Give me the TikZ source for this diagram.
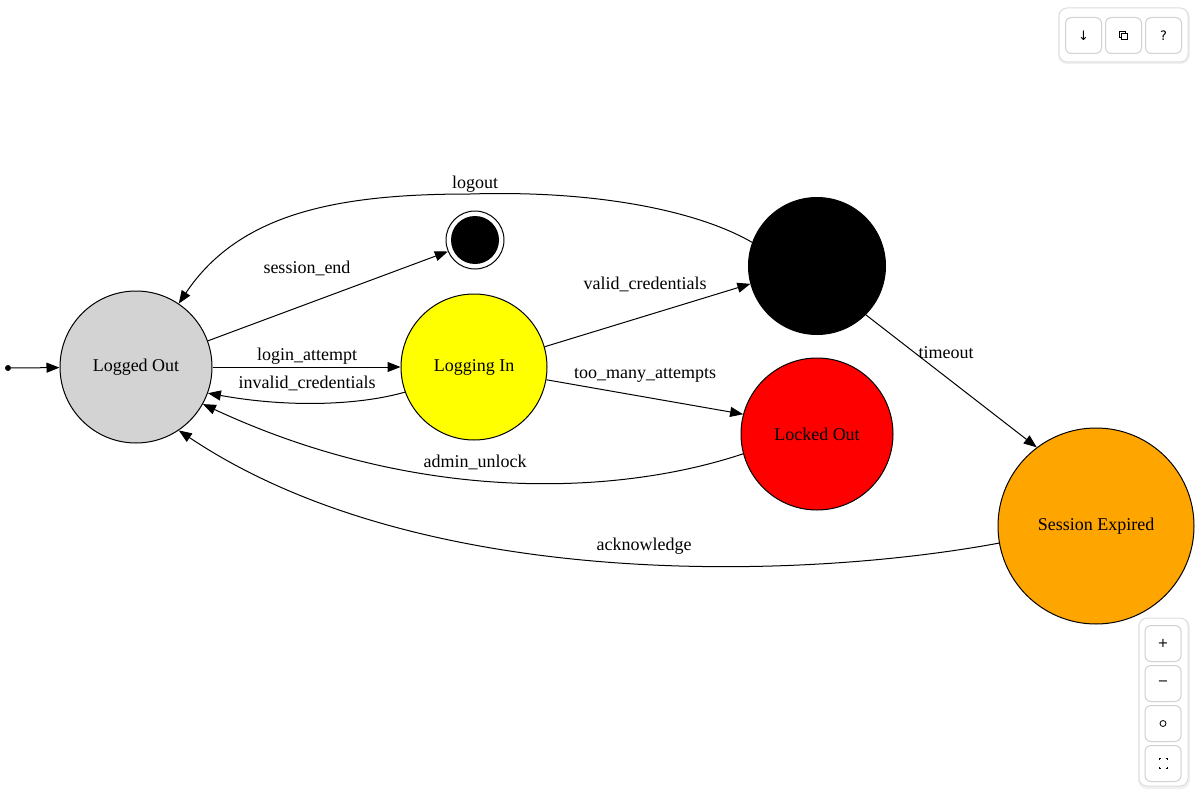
\documentclass[tikz,border=0pt]{standalone}
\usepackage{fontspec}
\setmainfont{Liberation Serif}
\newfontfamily\uifont{DejaVu Sans}
\usetikzlibrary{arrows.meta}
\definecolor{stYellow}{RGB}{255,255,0}
\definecolor{stRed}{RGB}{255,0,0}
\definecolor{stOrange}{RGB}{255,165,0}
\definecolor{stGray}{RGB}{211,211,211}
\begin{document}
\begin{tikzpicture}[x=1pt,y=-1pt,
  st/.style={circle,draw=black,line width=1pt,inner sep=0pt,font=\fontsize{18}{21}\selectfont},
  edge/.style={line width=1pt,-{Triangle[length=13pt,width=10pt]}},
  lbl/.style={font=\fontsize{18}{21}\selectfont,inner sep=1pt},
  panel/.style={draw=black!13,fill=white,rounded corners=8pt,line width=1pt},
  btn/.style={draw=black!18,fill=white,rounded corners=6pt,line width=1pt,minimum width=36pt,minimum height=36pt,inner sep=0pt,font=\uifont\fontsize{13}{15}\selectfont}]
\useasboundingbox (0,0) rectangle (1200,800);
\fill[white] (0,0) rectangle (1200,800);

% states
\node[st,fill=stGray,minimum size=152pt] (lo) at (136,367) {Logged Out};
\node[st,fill=stYellow,minimum size=146pt] (li) at (474,367) {Logging In};
\node[st,fill=black,minimum size=137pt] (in) at (817,266) {};
\node[st,fill=stRed,minimum size=152pt] (lk) at (817,434) {Locked Out};
\node[st,fill=stOrange,minimum size=196pt] (se) at (1096,526) {Session Expired};
\node[circle,draw=black,fill=white,line width=1pt,minimum size=58pt,inner sep=0pt] (fin) at (475,240) {};
\node[circle,fill=black,minimum size=48pt,inner sep=0pt] (finin) at (fin.center) {};
\node[circle,fill=black,minimum size=6pt,inner sep=0pt] (init) at (8,368) {};

% edges
\draw[edge] (init) -- (lo);
\draw[edge] (lo.20) -- (fin.203);
\draw[edge] (lo.0) -- (li.180);
\draw[edge] (li.200) .. controls (360,405) and (290,408) .. (lo.340);
\draw[edge] (li.16) -- (in.195);
\draw[edge] (li.350) -- (lk.165);
\draw[edge] (lk.195) .. controls (620,495) and (420,505) .. (lo.331);
\draw[edge] (in.160) .. controls (700,212) and (600,190) .. (470,194)
                     .. controls (340,194) and (240,212) .. (lo.56);
\draw[edge] (in.315) -- (se.127);
\draw[edge] (se.190) .. controls (800,580) and (420,592) .. (lo.304);

% labels
\node[lbl] (l1) at (307,268) {session\_end};
\node[lbl] (l2) at (307,356) {login\_attempt};
\node[lbl] (l3) at (307,383) {invalid\_credentials};
\node[lbl] (l4) at (645,284) {valid\_credentials};
\node[lbl] (l5) at (645,375) {too\_many\_attempts};
\node[lbl] (l6) at (475,462) {admin\_unlock};
\node[lbl] (l7) at (475,184) {logout};
\node[lbl] (l8) at (946,353) {timeout};
\node[lbl] (l9) at (644,546) {acknowledge};

% UI panels
\fill[black!6,rounded corners=9pt] (1058,8) rectangle (1190,64);
\draw[panel] (1059,8) rectangle (1188,62);
\node[btn] (b1) at (1083.5,35.5) {↓};
\node[btn] (b2) at (1123.5,35.5) {};
\node[btn] (b3) at (1163.5,35.5) {?};
\draw[line width=0.8pt] (1119.5,31.5) rectangle (1125.5,37.5);
\draw[line width=0.8pt,fill=white] (1121.5,33.5) rectangle (1127.5,39.5);

\fill[black!6,rounded corners=9pt] (1138,618) rectangle (1190,789);
\draw[panel] (1139,618) rectangle (1188,786);
\node[btn] (b4) at (1163,643.5) {+};
\node[btn] (b5) at (1163,683.5) {−};
\node[btn] (b6) at (1163,723.5) {};
\node[btn] (b7) at (1163,763.5) {};
\draw[line width=0.8pt] (b6.center) circle (3pt);
\draw[line width=0.8pt] (1159,760) -- (1159,758.5) -- (1160.5,758.5);
\draw[line width=0.8pt] (1165.5,758.5) -- (1167,758.5) -- (1167,760);
\draw[line width=0.8pt] (1167,767) -- (1167,768.5) -- (1165.5,768.5);
\draw[line width=0.8pt] (1160.5,768.5) -- (1159,768.5) -- (1159,767);
\end{tikzpicture}
\end{document}
